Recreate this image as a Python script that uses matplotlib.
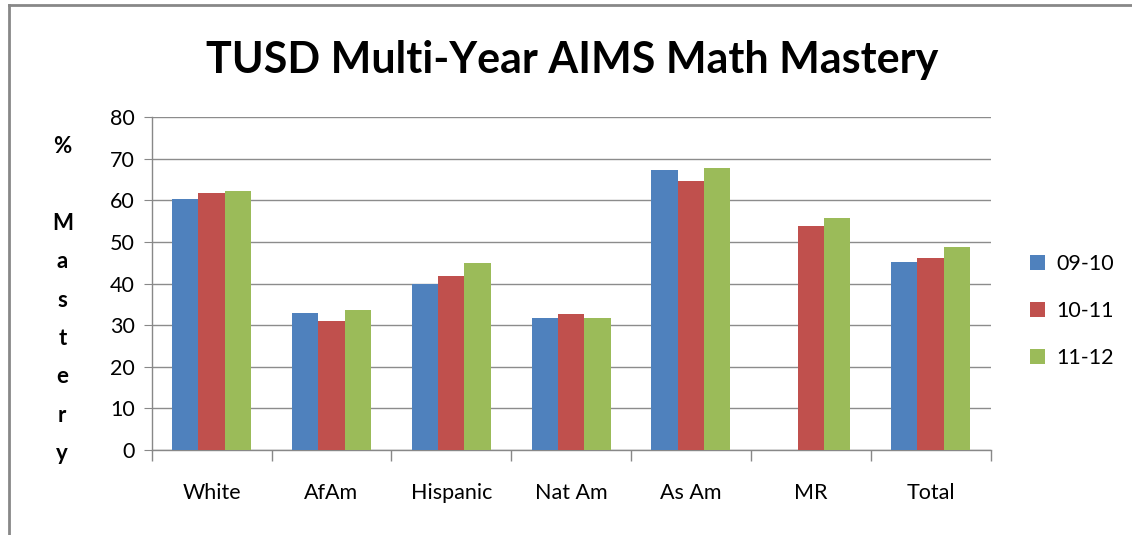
import matplotlib.pyplot as plt
import matplotlib.lines as mlines
import numpy as np

plt.rcParams['font.family'] = ['Lato', 'DejaVu Sans']

categories = ['White', 'AfAm', 'Hispanic', 'Nat Am', 'As Am', 'MR', 'Total']
series = ['09-10', '10-11', '11-12']
v0910 = [60.3, 33.0, 39.9, 31.8, 67.4, np.nan, 45.3]
v1011 = [61.8, 31.1, 41.9, 32.7, 64.7, 53.9, 46.2]
v1112 = [62.2, 33.6, 45.0, 31.8, 67.8, 55.8, 48.7]
colors = ['#4F81BD', '#C0504D', '#9BBB59']

fig = plt.figure(figsize=(11.32, 5.35), dpi=100)
ax = fig.add_axes([0.134, 0.159, 0.741, 0.622])

x = np.arange(len(categories))
w = 0.22
for i, (vals, lab) in enumerate(zip([v0910, v1011, v1112], series)):
    ax.bar(x + (i - 1) * w, vals, w, color=colors[i], label=lab, zorder=3)

ax.set_xlim(-0.5, len(categories) - 0.5)
ax.set_ylim(0, 80)
ax.set_yticks(np.arange(0, 81, 10))
ax.set_xticks(x)
ax.set_xticklabels(categories, fontsize=15.5)
ax.set_xticks(np.arange(-0.5, len(categories), 1), minor=True)
ax.tick_params(axis='x', which='major', length=0, pad=24)
ax.tick_params(axis='x', which='minor', length=8, color='#888888', width=1)
ax.tick_params(axis='y', labelsize=15.5, length=6, color='#888888', pad=6)
ax.grid(axis='y', color='#8c8c8c', linewidth=1, zorder=0)
for s in ['top', 'right']:
    ax.spines[s].set_visible(False)
for s in ['left', 'bottom']:
    ax.spines[s].set_color('#888888')
    ax.spines[s].set_linewidth(1)

fig.text(0.505, 0.888, 'TUSD Multi-Year AIMS Math Mastery', ha='center', va='center',
         fontsize=31, fontweight='bold')
fig.text(0.055, 0.439, '%\n\nM\na\ns\nt\ne\nr\ny', ha='center', va='center',
         fontsize=16, fontweight='bold', linespacing=2.02)

ax.legend(loc='center left', bbox_to_anchor=(0.893, 0.419), bbox_transform=fig.transFigure,
          frameon=False, fontsize=15.5, handlelength=0.7, handleheight=0.7,
          labelspacing=1.25, handletextpad=0.5)

# chart area border (left and top only visible)
fig.add_artist(mlines.Line2D([0.008, 0.008], [0, 0.99], transform=fig.transFigure,
                             color='#888888', lw=2))
fig.add_artist(mlines.Line2D([0.008, 1], [0.99, 0.99], transform=fig.transFigure,
                             color='#888888', lw=2))

fig.savefig('out.png', dpi=100)
